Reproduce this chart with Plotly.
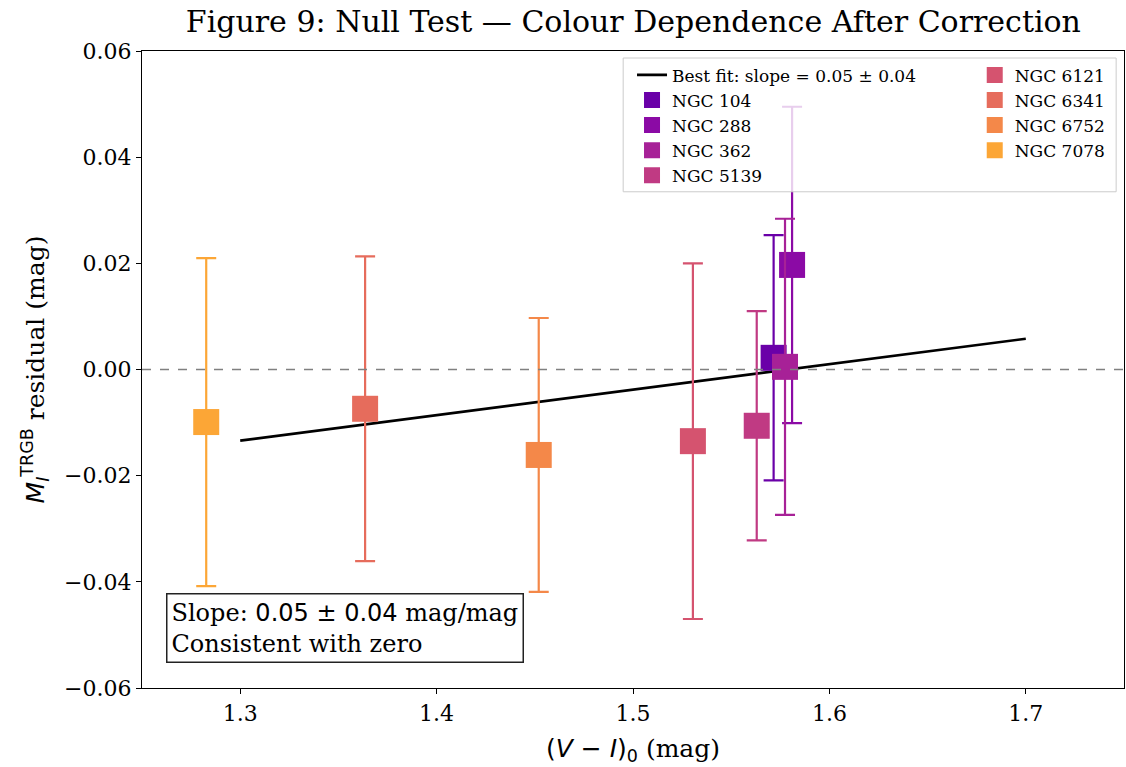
import plotly.graph_objects as go

clusters = ["NGC 104", "NGC 288", "NGC 362", "NGC 5139", "NGC 6121", "NGC 6341", "NGC 6752", "NGC 7078"]
colour_vi = [1.5716, 1.581, 1.5774, 1.563, 1.5305, 1.3636, 1.452, 1.2827]
residual = [0.0022, 0.0197, 0.0005, -0.0106, -0.0135, -0.0074, -0.0161, -0.0099]
residual_err = [0.0231, 0.0298, 0.0279, 0.0216, 0.0335, 0.0287, 0.0258, 0.0309]
colors = ["#6a00a8", "#8b0aa5", "#a72197", "#c03a83", "#d5536f", "#e66c5c", "#f48849", "#fca636"]

fit_slope = 0.048
fit_intercept = -0.0758
fit_x = [1.3, 1.7]
fit_y = [fit_intercept + fit_slope * x for x in fit_x]

SERIF = "DejaVu Serif"
SANS_SPAN = "<span style=\"font-family:'DejaVu Sans'\">"

fig = go.Figure()

fig.add_hline(y=0, line=dict(color="gray", dash="dash", width=1.6))

fig.add_trace(go.Scatter(
    x=fit_x, y=fit_y, mode="lines",
    line=dict(color="black", width=2.6),
    name="Best fit: slope = 0.05 ± 0.04", legend="legend",
))

for i, (name, x, y, e, c) in enumerate(zip(clusters, colour_vi, residual, residual_err, colors)):
    fig.add_trace(go.Scatter(
        x=[x], y=[y], mode="markers", name=name,
        marker=dict(symbol="square", size=26, color=c, line=dict(width=0)),
        error_y=dict(type="data", array=[e], visible=True, color=c, thickness=2.2, width=10),
        legend="legend" if i < 4 else "legend2",
    ))

# legend frame (semi-transparent, above the data like matplotlib's legend)
fig.add_shape(type="rect", xref="paper", yref="paper",
              x0=0.490, x1=0.992, y0=0.779, y1=0.989,
              fillcolor="rgba(255,255,255,0.8)", line=dict(color="#cccccc", width=1),
              layer="above")

fig.add_annotation(
    xref="paper", yref="paper", x=0.024, y=0.04, xanchor="left", yanchor="bottom",
    text="Slope: " + SANS_SPAN + "0.05 ± 0.04</span> mag/mag<br>Consistent with zero",
    showarrow=False, align="left",
    font=dict(family=SERIF, size=24, color="black"),
    bgcolor="white", bordercolor="#222222", borderwidth=1.5, borderpad=4,
)

axis_common = dict(
    showline=True, linecolor="black", linewidth=1.2, mirror=True,
    ticks="outside", ticklen=5, tickwidth=1.2, tickcolor="black",
    showgrid=False, zeroline=False,
    tickfont=dict(family=SERIF, size=22, color="black"),
)

fig.update_layout(
    width=1126, height=767,
    margin=dict(l=142, r=2, t=51, b=79),
    paper_bgcolor="white", plot_bgcolor="white",
    title=dict(text="Figure 9: Null Test — Colour Dependence After Correction",
               x=0.5625, xanchor="center", y=0.972, yanchor="middle",
               font=dict(family=SERIF, size=30, color="black")),
    xaxis=dict(range=[1.25, 1.75], dtick=0.1, tickformat=".1f",
               title=dict(text=SANS_SPAN + "(<i>V</i> − <i>I</i>)<sub>0</sub></span> (mag)",
                          font=dict(family=SERIF, size=25, color="black"), standoff=14),
               **axis_common),
    yaxis=dict(range=[-0.06, 0.06], dtick=0.02, tickformat=".2f",
               title=dict(text=SANS_SPAN + "<i>M</i><sub><i>I</i></sub><sup>TRGB</sup></span> residual (mag)",
                          font=dict(family=SERIF, size=25, color="black"), standoff=12),
               **axis_common),
    legend=dict(x=0.499, y=0.99, xanchor="left", yanchor="top",
                bgcolor="rgba(0,0,0,0)", borderwidth=0,
                font=dict(family=SERIF, size=17, color="black"),
                itemsizing="trace", tracegroupgap=0),
    legend2=dict(x=0.848, y=0.99, xanchor="left", yanchor="top",
                 bgcolor="rgba(0,0,0,0)", borderwidth=0,
                 font=dict(family=SERIF, size=17, color="black"),
                 itemsizing="trace"),
    showlegend=True,
)

fig.write_html("out.html")
